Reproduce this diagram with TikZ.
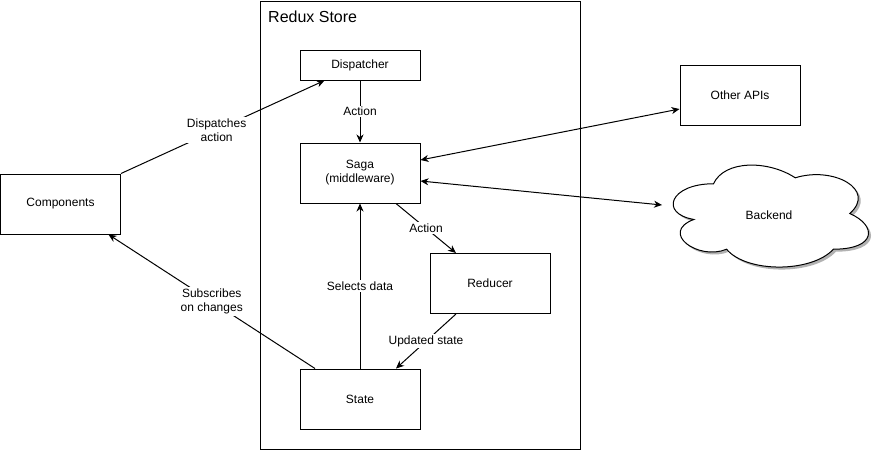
\documentclass[tikz,border=0pt]{standalone}
\usepackage{fontspec}
\setmainfont{Liberation Sans}
\usetikzlibrary{arrows.meta,calc}
\begin{document}
\begin{tikzpicture}[x=1pt,y=-1pt,
  box/.style={draw=black,fill=white,line width=1pt,minimum width=120pt,minimum height=60pt,inner sep=0pt,align=center,font=\fontsize{12}{14}\selectfont},
  lbl/.style={fill=white,inner sep=1.5pt,align=center,font=\fontsize{12}{14}\selectfont},
  arr/.style={line width=1pt,-{Stealth[length=8pt,width=7pt,inset=2.5pt]}},
  darr/.style={line width=1pt,{Stealth[length=8pt,width=7pt,inset=2.5pt]}-{Stealth[length=8pt,width=7pt,inset=2.5pt]}},
  cloudpath/.style={line width=1pt}]
\useasboundingbox (0,0) rectangle (883,451);
\fill[white] (0,0) rectangle (883,451);
% store
\node[draw=black,line width=1pt,minimum width=320pt,minimum height=448pt,inner sep=0pt] (store) at (420,225) {};
\node[anchor=west,font=\fontsize{16}{18}\selectfont,inner sep=0pt] (title) at (268,17) {Redux Store};
% nodes
\node[box,minimum height=30pt] (dispatcher) at (360,65) {Dispatcher};
\node[box] (saga) at (360,173) {Saga\\(middleware)};
\node[box] (reducer) at (490,283.5) {Reducer};
\node[box] (state) at (360,399) {State};
\node[box] (components) at (60.5,204) {Components};
\node[box] (otherapis) at (740,95) {Other APIs};
% cloud shadow
\begin{scope}[shift={(661.5,156.5)},x=218pt,y=-119pt]
\fill[black!30] (0.25,0.25) .. controls (0.05,0.25) and (0,0.5) .. (0.16,0.55)
  .. controls (0,0.66) and (0.18,0.9) .. (0.31,0.8)
  .. controls (0.4,1) and (0.7,1) .. (0.8,0.8)
  .. controls (1,0.8) and (1,0.6) .. (0.875,0.5)
  .. controls (1,0.3) and (0.8,0.1) .. (0.625,0.2)
  .. controls (0.5,0.05) and (0.3,0.05) .. (0.25,0.25) -- cycle;
\end{scope}
% cloud
\begin{scope}[shift={(659,154)},x=218pt,y=-119pt]
\draw[cloudpath,fill=white] (0.25,0.25) .. controls (0.05,0.25) and (0,0.5) .. (0.16,0.55)
  .. controls (0,0.66) and (0.18,0.9) .. (0.31,0.8)
  .. controls (0.4,1) and (0.7,1) .. (0.8,0.8)
  .. controls (1,0.8) and (1,0.6) .. (0.875,0.5)
  .. controls (1,0.3) and (0.8,0.1) .. (0.625,0.2)
  .. controls (0.5,0.05) and (0.3,0.05) .. (0.25,0.25) -- cycle;
\end{scope}
\node[font=\fontsize{12}{14}\selectfont,inner sep=0pt] (backend) at (769,215) {Backend};
\coordinate (backendL) at (662,205);
% connectors
\draw[arr] (components.north east) -- node[lbl,pos=0.47] {Dispatches\\action} ([xshift=25pt]dispatcher.south west);
\draw[arr] (dispatcher.south) -- node[lbl] {Action} (saga.north);
\draw[darr] ([yshift=13pt]saga.east) -- ([yshift=-14pt]otherapis.west);
\draw[darr] ([yshift=-8pt]saga.east) -- (backendL);
\draw[arr] ([xshift=36pt]saga.south) -- node[lbl] {Action} ([xshift=-34pt]reducer.north);
\draw[arr] ([xshift=-34pt]reducer.south) -- node[lbl] {Updated state} ([xshift=36pt]state.north);
\draw[arr] (state.north) -- node[lbl] {Selects data} (saga.south);
\draw[arr] ([xshift=-45pt]state.north) -- node[lbl,pos=0.5] {Subscribes\\on changes} ([xshift=48pt]components.south);
\end{tikzpicture}
\end{document}
